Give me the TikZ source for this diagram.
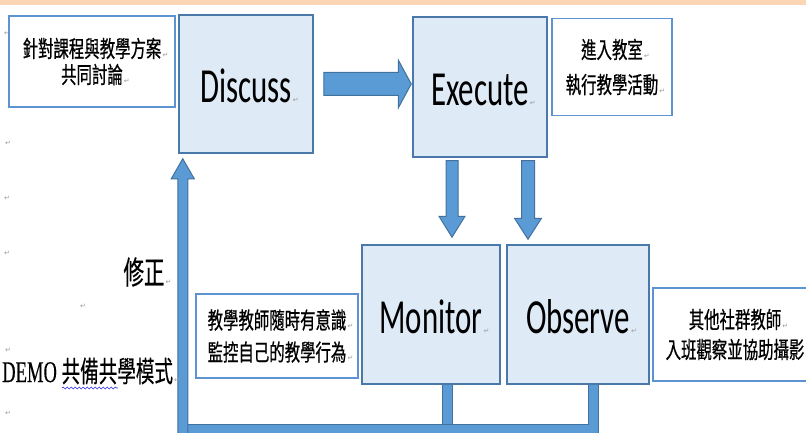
\documentclass[tikz,border=0pt]{standalone}
\usepackage{fontspec}
\usetikzlibrary{calc,decorations.pathmorphing}
\newfontfamily\calib[FakeStretch=0.63]{Carlito}
\newfontfamily\cjk[FakeStretch=0.67,FakeBold=0.6]{Noto Sans CJK TC}
\newfontfamily\cjkb[FakeStretch=0.64,FakeBold=0.4]{Noto Sans CJK TC}
\newfontfamily\tms[FakeStretch=0.62,FakeBold=0.3]{Liberation Serif}
\newfontfamily\dvs{DejaVu Sans}
\definecolor{boxfill}{HTML}{DEEAF6}
\definecolor{boxdraw}{HTML}{4A78A8}
\definecolor{notedraw}{HTML}{5B93D3}
\definecolor{arrfill}{HTML}{5B9BD5}
\definecolor{arrdraw}{HTML}{41719C}
\definecolor{stripcol}{HTML}{FCD5B4}
\definecolor{markgray}{HTML}{9A9A9A}
\definecolor{wavyblue}{HTML}{2E2EE6}
\newcommand\retmk{\rlap{\dvs\fontsize{7}{7}\selectfont\color{markgray}\,↵}}
\begin{document}
\begin{tikzpicture}[x=1pt,y=-1pt,
  bigbox/.style={draw=boxdraw, fill=boxfill, line width=1.5pt, inner sep=0pt,
    font=\calib\fontsize{49}{49}\selectfont, text height=37pt, text depth=0pt},
  notebox/.style={draw=notedraw, fill=white, line width=1.8pt, inner sep=0pt, align=center},
  arr/.style={fill=arrfill, draw=arrdraw, line width=1pt, line join=miter},
  fat/.style={draw=arrdraw, double=arrfill, double distance=9pt, line width=1pt},
  mk/.style={font=\dvs\fontsize{7}{7}\selectfont, text=markgray, inner sep=0pt}
]
\useasboundingbox (0,0) rectangle (806,433);
\clip (0,0) rectangle (806,433);
\fill[stripcol] (0,0) rectangle (806,5);

% boxes
\node[notebox, minimum width=166pt, minimum height=91pt,
  font=\cjk\fontsize{23}{26}\selectfont] (plan) at (92,61.5)
  {針對課程與教學方案\retmk\\共同討論\retmk};
\node[bigbox, minimum width=134pt, minimum height=138pt] (discuss) at (246,84) {Discuss\retmk};
\node[bigbox, minimum width=134pt, minimum height=140pt] (execute) at (480,87) {Execute\retmk};
\node[notebox, minimum width=120pt, minimum height=97pt,
  font=\cjk\fontsize{23}{35}\selectfont] (enter) at (612,67)
  {進入教室\retmk\\執行教學活動\retmk};
\node[bigbox, minimum width=138pt, minimum height=139pt] (monitor) at (431,314.5) {Monitor\retmk};
\node[bigbox, minimum width=142pt, minimum height=139pt] (observe) at (578,314.5) {Observe\retmk};
\node[notebox, minimum width=164pt, minimum height=93pt,
  font=\cjk\fontsize{23}{30}\selectfont] (others) at (735,334.5)
  {其他社群教師\retmk\\入班觀察並協助攝影\retmk};
\node[notebox, minimum width=162pt, minimum height=84pt,
  font=\cjk\fontsize{23}{32}\selectfont] (self) at (277,336)
  {教學教師隨時有意識\retmk\\監控自己的教學行為\retmk};

% right arrow Discuss -> Execute
\draw[arr] let \p1=($(discuss.east)+(10,0)$), \p2=($(execute.west)+(-1,0)$) in
  (\x1,\y1+11.5pt) -- (\x2-13pt,\y1+11.5pt) -- (\x2-13pt,\y1+24pt) -- (\x2,\y1)
  -- (\x2-13pt,\y1-24pt) -- (\x2-13pt,\y1-11.5pt) -- (\x1,\y1-11.5pt) -- cycle;

% down arrows Execute -> Monitor / Observe
\draw[arr] let \p1=($(execute.south)+(-28,3)$), \p2=($(monitor.north)+(21,-7)$) in
  (\x1-6pt,\y1) -- (\x1-6pt,\y2+21pt) -- (\x1-13pt,\y2+21pt) -- (\x1,\y2)
  -- (\x1+13pt,\y2+21pt) -- (\x1+6pt,\y2+21pt) -- (\x1+6pt,\y1) -- cycle;
\draw[arr] let \p1=($(execute.south)+(48,3)$), \p2=($(observe.north)+(-50,-5)$) in
  (\x1-6.5pt,\y1) -- (\x1-6.5pt,\y2+21pt) -- (\x1-13.5pt,\y2+21pt) -- (\x1,\y2)
  -- (\x1+13.5pt,\y2+21pt) -- (\x1+6.5pt,\y2+21pt) -- (\x1+6.5pt,\y1) -- cycle;

% feedback loop
\coordinate (bus) at (178,429.5);
\coordinate (upfoot) at (183.5,440);
\coordinate (mstub) at ($(monitor.south)+(16.5,0)$);
\coordinate (ostub) at ($(observe.south)+(15,0)$);
\draw[fat] (mstub) -- (mstub |- bus);
\draw[fat] (ostub) |- (bus);
\draw[arr] let \p1=(upfoot), \p2=($(discuss.south west)+(4.5,5)$) in
  (\x2-5pt,\y1) -- (\x2-5pt,\y2-20pt) -- (\x2-11.5pt,\y2-20pt) -- (\x2,\y2)
  -- (\x2+11.5pt,\y2-20pt) -- (\x2+5pt,\y2-20pt) -- (\x2+5pt,\y1) -- cycle;

% side texts
\node[font=\cjkb\fontsize{32}{32}\selectfont, inner sep=0pt] (fix) at (144,272) {修正\retmk};
\node[anchor=base west, inner sep=0pt] (demo) at (2,382)
  {\tms\fontsize{30}{30}\selectfont DEMO {\cjkb\fontsize{29}{29}\selectfont 共備共學模式}\retmk};
\draw[wavyblue, line width=0.6pt, decorate, decoration={snake, amplitude=1pt, segment length=4pt}]
  ($(demo.base west)+(60,6)$) -- ($(demo.base west)+(116,6)$);

% paragraph marks in the margin
\node[mk] (m1) at (7,33) {↵};
\node[mk] (m2) at (8,143) {↵};
\node[mk] (m3) at (7,198) {↵};
\node[mk] (m4) at (7,253) {↵};
\node[mk] (m5) at (83,306) {↵};
\node[mk] (m6) at (8,350) {↵};
\node[mk] (m7) at (8,413) {↵};
\end{tikzpicture}
\end{document}
